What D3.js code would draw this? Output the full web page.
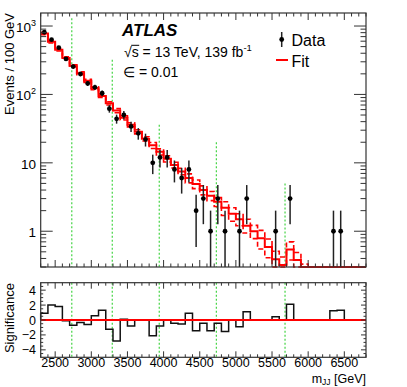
<!DOCTYPE html>
<html><head><meta charset="utf-8">
<script src="https://cdn.jsdelivr.net/npm/d3@7"></script>
<style>body{margin:0;background:#fff}svg{display:block}text{font-family:"Liberation Sans",Arial,Helvetica,sans-serif;fill:#000}</style>
</head><body><svg id="c" width="407" height="387"></svg>
<script>
// ---- data (bins of 100 GeV, lower edges) ----
const binLow = [2300,2400,2500,2600,2700,2800,2900,3000,3100,3200,3300,3400,3500,3600,3700,3800,3900,4000,4100,4200,4300,4400,4500,4600,4700,4800,4900,5000,5100,5200,5300,5400,5500,5600,5700,5800,5900,6000,6100,6200,6300,6400,6500,6600,6700];
const binWidth = 100;
const dataCounts = [811,632,483,330,255,199,145,127,104,62,44,50,34,27,22,10,12,12,8,6,8,2,3,1,3,1,0,1,3,0,0,0,1,0,3,0,0,0,0,0,1,1,0,0,0];
const fitValues = [780,590,450,340,262,204,158,123,95,74,58,45.5,36,28.5,22.5,18,14.5,11.5,9.3,7.5,6.0,4.9,4.0,3.3,2.7,2.2,1.8,1.5,1.2,1.0,0.79,0.59,0.39,0.32,0.54,0.38,0.25,0.2,0.15,0.12,0.1,0.08,0.06,0.05,0.04];
const fitUp = [811,614,468,354,272,214,166,129,100,78,62,48.7,38.5,30.5,24.1,19.8,16.0,12.7,10.2,8.3,6.9,5.6,4.6,3.8,3.1,2.7,2.2,1.8,1.5,1.22,1.03,0.77,0.51,0.42,0.70,0.49,0.33,0.26,0.2,0.16,0.13,0.1,0.08,0.07,0.05];
const fitDown = [749,566,432,326,252,194,150,117,90,70,54,42.3,33.5,26.5,20.9,16.2,13.0,10.3,8.4,6.7,5.1,4.2,3.4,2.8,2.3,1.7,1.4,1.2,0.94,0.78,0.55,0.41,0.27,0.22,0.38,0.27,0.18,0.14,0.1,0.08,0.07,0.05,0.04,0.03,0.03];
const significance = [0.9,2.0,1.8,-0.1,-0.7,-0.35,-0.6,0.57,1.3,-1.25,-2.8,0.1,-0.8,0,0,-2.1,-0.8,0,-0.45,-0.55,0.9,-1.45,-0.45,-1.45,-0.45,-1.55,0,-0.9,1.1,0,0,0,0.45,0,2.1,0,0,0,0,0,1.25,1.3,0,0,0];
const signalLines = [2730,3290,3940,4730,5680];
const signalLineTop = [1300,320,36,20,5];
const xTicks = [2500,3000,3500,4000,4500,5000,5500,6000,6500];
const yTicksTop = [1,10,100,1000];
const yTickLabelsTop = [["1",""],["10",""],["10","2"],["10","3"]];
const yTicksBottom = [-4,-2,0,2,4];

// ---- layout ----
const svg = d3.select("#c");
svg.append("rect").attr("width",407).attr("height",387).attr("fill","#fff");
const L=40.7,R=366,T1=13,B1=267,T2=282.7,B2=357.3;
const x = d3.scaleLinear().domain([2300,6800]).range([L,R]);
const y = d3.scaleLog().domain([0.3,1550]).range([B1,T1]);
const ys = d3.scaleLinear().domain([-5,5]).range([B2,T2]);
const axisCol = "#333";

function clampY(v){ return Math.max(0.3, Math.min(1550, v)); }
function stepPts(vals){
  const pts = binLow.map((b,i)=>[b, vals[i]]);
  pts.push([binLow[binLow.length-1]+binWidth, vals[vals.length-1]]);
  return pts;
}
const topLine = d3.line().x(d=>x(d[0])).y(d=>y(clampY(d[1]))).curve(d3.curveStepAfter);
const botLine = d3.line().x(d=>x(d[0])).y(d=>ys(d[1])).curve(d3.curveStepAfter);

// green signal lines
const gTop = svg.append("g");
signalLines.forEach((m,i)=>{
  gTop.append("line").attr("x1",x(m)).attr("x2",x(m)).attr("y1",y(signalLineTop[i])).attr("y2",B1)
    .attr("stroke","#44d444").attr("stroke-width",1.2).attr("stroke-dasharray","2,2");
  gTop.append("line").attr("x1",x(m)).attr("x2",x(m)).attr("y1",T2).attr("y2",B2)
    .attr("stroke","#44d444").attr("stroke-width",1.2).attr("stroke-dasharray","2,2");
});

// fit band (dashed) and central
svg.append("path").attr("d",topLine(stepPts(fitUp))).attr("fill","none").attr("stroke","#f00").attr("stroke-width",1.6).attr("stroke-dasharray","5,3");
svg.append("path").attr("d",topLine(stepPts(fitDown))).attr("fill","none").attr("stroke","#f00").attr("stroke-width",1.6).attr("stroke-dasharray","5,3");
svg.append("path").attr("d",topLine(stepPts(fitValues))).attr("fill","none").attr("stroke","#f00").attr("stroke-width",2);

// data points
const gD = svg.append("g");
binLow.forEach((b,i)=>{
  const n = dataCounts[i]; if(n<=0) return;
  const cx = x(b+binWidth/2);
  const e = Math.sqrt(n);
  const lo = n-e>0 ? y(n-e) : B1;
  gD.append("line").attr("x1",cx).attr("x2",cx).attr("y1",y(n+e)).attr("y2",lo).attr("stroke","#222").attr("stroke-width",1.5);
  gD.append("circle").attr("cx",cx).attr("cy",y(n)).attr("r",2.4).attr("fill","#000");
});

// bottom panel
svg.append("path").attr("d",botLine([[2300,0]].concat(stepPts(significance)).concat([[6800,0]])))
  .attr("fill","none").attr("stroke","#111").attr("stroke-width",1.5);
svg.append("line").attr("x1",L).attr("x2",R).attr("y1",ys(0)).attr("y2",ys(0)).attr("stroke","#f00").attr("stroke-width",1.8);

// frames
[[T1,B1],[T2,B2]].forEach(([t,b])=>{
  svg.append("rect").attr("x",L).attr("y",t).attr("width",R-L).attr("height",b-t).attr("fill","none").attr("stroke",axisCol).attr("stroke-width",1.2);
});

// ticks
const gT = svg.append("g").attr("stroke",axisCol).attr("stroke-width",1);
function tick(x1,y1,x2,y2){ gT.append("line").attr("x1",x1).attr("y1",y1).attr("x2",x2).attr("y2",y2); }
for(let v=2300; v<=6800; v+=100){
  const major = v%500===0; const px = x(v);
  const l1 = major?7:3.5, l2 = major?6:3;
  tick(px,B1,px,B1-l1); tick(px,T1,px,T1+l1);
  tick(px,B2,px,B2-l2); tick(px,T2,px,T2+l2);
}
for(let d=0.1; d<=1000; d*=10){
  for(let k=1;k<=9;k++){
    const v=d*k; if(v<0.3||v>1550) continue;
    const py=y(v); const len = k===1?12:5.5;
    tick(L,py,L+len,py); tick(R,py,R-len,py);
  }
}
for(let v=-4.5; v<=4.5; v+=0.5){
  const py=ys(v); const major = Math.abs(v%2)<1e-6; const len = major?5:2.5;
  tick(L,py,L+len,py); tick(R,py,R-len,py);
}

// tick labels
const fs=12.5;
xTicks.forEach(v=>{
  svg.append("text").attr("x",x(v)).attr("y",367).attr("text-anchor","middle").attr("font-size",fs).text(v);
});
yTicksTop.forEach((v,i)=>{
  const t = svg.append("text").attr("x",36).attr("y",y(v)+6).attr("text-anchor","end").attr("font-size",fs+1);
  t.append("tspan").text(yTickLabelsTop[i][0]);
  if(yTickLabelsTop[i][1]) t.append("tspan").attr("dy",-6).attr("font-size",9).text(yTickLabelsTop[i][1]);
});
yTicksBottom.forEach(v=>{
  svg.append("text").attr("x",36).attr("y",ys(v)+4.5).attr("text-anchor","end").attr("font-size",fs).text(v<0?"\u2212"+Math.abs(v):v);
});

// axis titles
svg.append("text").attr("transform","translate(14,13) rotate(-90)").attr("text-anchor","end").attr("font-size",13).text("Events / 100 GeV");
svg.append("text").attr("transform","translate(14,283) rotate(-90)").attr("text-anchor","end").attr("font-size",13).text("Significance");
const xt = svg.append("text").attr("x",366).attr("y",382.5).attr("text-anchor","end").attr("font-size",12.5);
xt.append("tspan").text("m");
xt.append("tspan").attr("dy",2.5).attr("font-size",8.5).text("JJ");
xt.append("tspan").attr("dy",-2.5).text(" [GeV]");

// labels
svg.append("text").attr("x",122).attr("y",35.7).attr("font-size",17).attr("font-weight","bold").attr("font-style","italic").text("ATLAS");
const ec = svg.append("text").attr("x",124).attr("y",57.3).attr("font-size",14);
ec.append("tspan").text("\u221As = 13 TeV, 139 fb");
ec.append("tspan").attr("dy",-6).attr("font-size",9.5).text("-1");
const ecn = ec.node();
const sx0 = 124 + ecn.getSubStringLength(0,1);
const sw = ecn.getSubStringLength(1,1);
svg.append("line").attr("x1",sx0-0.5).attr("x2",sx0+sw+0.5).attr("y1",45.3).attr("y2",45.3).attr("stroke","#000").attr("stroke-width",1);
svg.append("text").attr("x",123).attr("y",76.5).attr("font-size",14).text("\u2208 = 0.01");

// legend
svg.append("line").attr("x1",281.7).attr("x2",281.7).attr("y1",32).attr("y2",47).attr("stroke","#222").attr("stroke-width",1.5);
svg.append("circle").attr("cx",281.7).attr("cy",39.5).attr("r",2.4).attr("fill","#000");
svg.append("text").attr("x",291.5).attr("y",45.5).attr("font-size",16).text("Data");
svg.append("line").attr("x1",276).attr("x2",288).attr("y1",60).attr("y2",60).attr("stroke","#f00").attr("stroke-width",2);
svg.append("text").attr("x",291.5).attr("y",66.8).attr("font-size",16).text("Fit");
</script></body></html>
